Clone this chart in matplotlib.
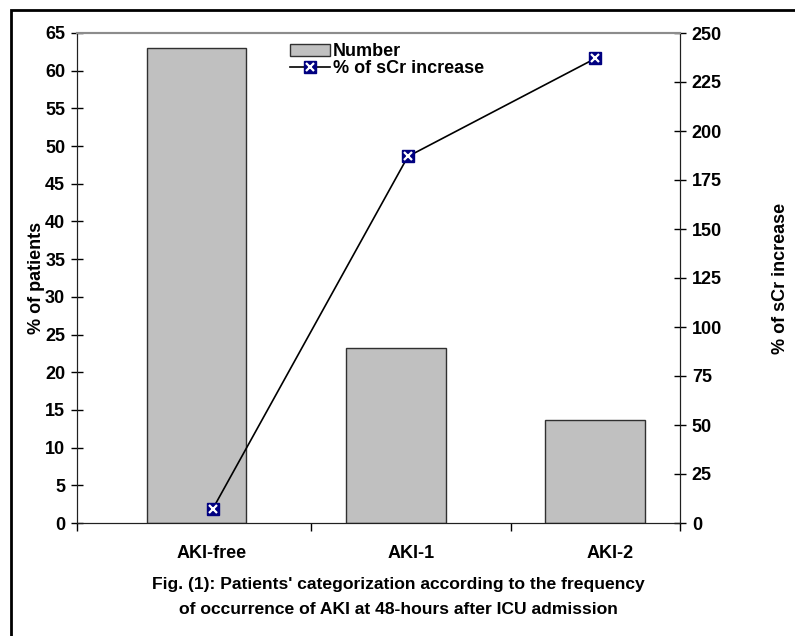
import numpy as np
import matplotlib.pyplot as plt
from matplotlib.patches import Rectangle
from matplotlib.legend_handler import HandlerTuple

plt.rcParams['font.family'] = ['Liberation Sans', 'DejaVu Sans']
plt.rcParams['font.weight'] = 'bold'

categories = ['AKI-free', 'AKI-1', 'AKI-2']
patients_pct = [63.0, 23.2, 13.6]
scr_increase = [7, 187, 237]
# the line points sit slightly right of the bar centres in the original
line_shift = [0.08, 0.06, 0.0]

fig = plt.figure(figsize=(7.95, 6.36), dpi=100)
ax = fig.add_axes([77/795, 1-523/636, (680-77)/795, (523-33)/636])
ax2 = ax.twinx()

x = np.arange(len(categories))
bars = ax.bar(x, patients_pct, width=0.5, color='#c0c0c0', edgecolor='#303030', linewidth=1.0, zorder=2)

ax.set_xlim(-0.6, 2.425)
ax.set_ylim(0, 65)
ax.set_yticks(np.arange(0, 66, 5))
ax.set_xticks(x + 0.075)
ax.set_xticklabels(categories, fontsize=13, fontweight='bold')
ax.set_xticks([-0.6, 0.575, 1.575, 2.425], minor=True)
ax.tick_params(axis='x', which='major', length=0, pad=16)
ax.tick_params(axis='x', which='minor', length=6, direction='out', width=1)
ax.tick_params(axis='y', direction='inout', length=9, width=1, labelsize=13, pad=4)
ax.set_ylabel('% of patients', fontsize=13, fontweight='bold')
ax.yaxis.set_label_coords(-0.053, 0.5)

ax2.set_ylim(0, 250)
ax2.set_yticks(np.arange(0, 251, 25))
ax2.tick_params(axis='y', direction='inout', length=9, width=1, labelsize=13, pad=4)
ax2.set_ylabel('% of sCr increase', fontsize=13, fontweight='bold')
ax2.yaxis.set_label_coords(1.153, 0.5)

for a in (ax, ax2):
    a.spines['top'].set_color('#8c8c8c')
    a.spines['top'].set_linewidth(1.5)
    a.spines['left'].set_color('#202020')
    a.spines['right'].set_color('#202020')
    a.spines['bottom'].set_color('#202020')
    for lab in a.get_yticklabels():
        lab.set_fontweight('bold')

lx = x + np.array(line_shift)
line, = ax2.plot(lx, scr_increase, color='black', linewidth=1.2, zorder=3)
sq, = ax2.plot(lx, scr_increase, linestyle='none', marker='s', markersize=8.5,
               markerfacecolor='#000080', markeredgecolor='#000080', zorder=4)
xm, = ax2.plot(lx, scr_increase, linestyle='none', marker='x', markersize=5.5,
               markeredgecolor='white', markeredgewidth=1.6, zorder=5)

ax2.legend([bars, (line, sq, xm)], ['Number', '% of sCr increase'],
           handler_map={tuple: HandlerTuple(ndivide=1, pad=0)},
           loc='upper left', bbox_to_anchor=(0.332, 1.005), frameon=False,
           prop={'size': 13, 'weight': 'bold'}, handlelength=2.2,
           handletextpad=0.2, labelspacing=0.0, borderaxespad=0.3)

fig.text(398/795, 1-584/636, "Fig. (1): Patients' categorization according to the frequency",
         ha='center', va='center', fontsize=12.6, fontweight='bold')
fig.text(398/795, 1-610/636, "of occurrence of AKI at 48-hours after ICU admission",
         ha='center', va='center', fontsize=12.6, fontweight='bold')

fig.patches.append(Rectangle((11/795, -0.05), 1.2, 1-10/636+0.05, transform=fig.transFigure,
                             fill=False, edgecolor='black', linewidth=2))

fig.savefig('out.png', dpi=100)
